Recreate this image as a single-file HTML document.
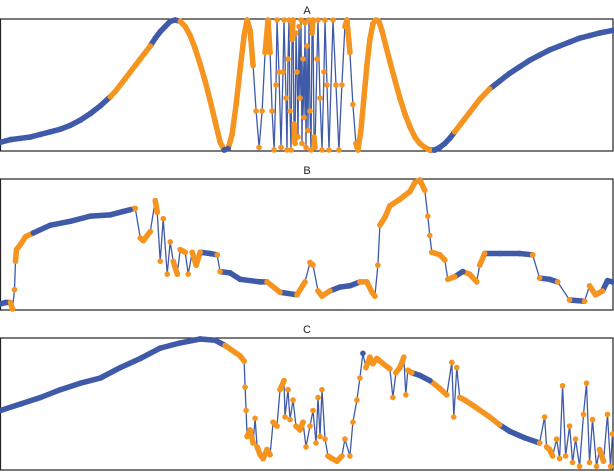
<!DOCTYPE html>
<html><head><meta charset="utf-8">
<style>
html,body{margin:0;padding:0;background:#fff;}
svg{display:block;font-family:"Liberation Sans",sans-serif;}
</style></head>
<body>
<svg id="chart" width="614" height="472" viewBox="0 0 614 472" xmlns="http://www.w3.org/2000/svg"></svg>
<script>
// Panel A data
const xA = [0,10,20,30,40,50,60,70,80,90, 100,110,115,120,125,130,135,140,145,150,
 155,160,165,170,175,180,185,190,195,200, 205,210,215,220,224,228,232,236,240,244,
 247,250,253,256,259,262,265,268,270,272, 274,276,277,279,281,283,284,286,287,288,
 289,290,291,292,293,294,295,296,297,298, 299,300,301,302,303,304,305,306,307,308,
 309,310,311,312,313,314,315,317,318,320, 322,324,325,327,329,333,336,339,342,345,
 347,350,353,356,358,361,364,367,370,373, 376,379,382,386,390,395,400,405,410,415,
 420,425,430,435,440,445,450,455,460,465, 470,475,480,485,490,500,510,520,530,540,
 550,560,570,580,590,600,613];
const vA = [6,8,9,10,12,14,16,19,23,28, 34,41,45,50,55,60,65,70,75,80,
 86,91,95,99,100,99,95,88,78,66, 53,38,22,6,0,1,12,35,62,88,
 100,92,65,30,2,30,75,100,75,30, 0,50,100,60,2,60,100,40,0,70,
 100,30,0,85,100,20,5,90,60,10, 95,40,100,5,70,25,98,2,80,15,
 100,30,0,90,100,10,2,70,100,40, 0,60,100,50,0,100,50,0,50,95,
 100,75,35,5,0,15,40,65,85,97, 100,99,92,80,68,54,40,28,18,10,
 5,2,0,0,2,5,9,14,19,24, 29,34,39,43,47,53,59,64,69,73,
 77,80,83,86,88,90,92];
const orangeA = [[110,150],[180,222],[230,430],[455,490]];

// Panel B data
const xB = [0,5,10,12,14,15,16,20,25,33, 50,70,90,110,130,135,140,143,150,155,
 157,160,163,167,170,173,177,180,185,188, 192,196,200,210,217,220,230,240,260,267,
 280,297,305,310,313,318,322,330,340,350, 360,367,372,375,378,380,385,390,400,410,
 415,420,425,428,430,432,440,445,448,455, 463,470,477,480,485,500,520,533,540,550,
 558,570,585,590,596,603,608,613];
const vB = [4,5,5,0,15,37,46,50,56,59, 65,68,72,73,77,78,55,53,60,84,
 75,37,70,27,52,37,27,46,44,27, 44,34,44,43,42,29,28,23,21,21,
 13,11,21,36,34,14,10,14,17,18, 21,21,13,10,34,65,71,80,85,91,
 98,100,92,72,57,44,42,38,23,25, 29,27,21,34,43,43,43,42,24,23,
 21,7,6,18,11,14,22,21];
const orangeB = [[8,30],[132,200],[215,222],[265,280],[297,330],[360,418],[420,440],[441,455],[465,485],[530,540],[555,570],[585,605]];

// Panel C data
const xC = [0,20,40,60,80,100,120,140,160,180, 200,215,225,240,244,245,246,247,250,253,
 255,257,260,263,267,270,273,277,280,284, 285,288,290,293,296,300,303,306,310,313,
 316,318,320,322,325,328,332,337,342,345, 350,353,357,360,363,366,370,373,377,380,
 385,390,393,396,400,404,406,408,412,420, 430,440,447,452,454,457,460,465,475,490,
 500,510,525,540,545,547,550,553,557,560, 563,566,570,573,576,580,584,587,590,593,
 597,600,604,608,611,613];
const vC = [45,50,55,61,66,70,78,85,93,97, 100,99,95,87,83,63,45,25,30,20,
 39,17,11,8,15,11,36,33,61,68, 40,61,38,53,33,30,36,17,33,45,
 20,55,25,61,23,10,8,6,10,23, 10,36,53,70,89,78,86,81,85,83,
 80,77,55,74,78,86,57,76,74,72, 68,62,57,82,40,78,55,53,48,40,
 34,29,24,20,40,17,15,10,23,8, 64,10,33,5,23,2,42,66,5,38,
 2,15,6,42,2,27];
const orangeC = [[224,250],[250,360],[364,412],[433,500],[537,613]];

const titles = ["A","B","C"];

const svg = document.getElementById('chart');
const NS = 'http://www.w3.org/2000/svg';
const BLUE = '#3f5aa8', ORANGE = '#f5941e';

function mk(tag, attrs){ const e=document.createElementNS(NS,tag); for(const k in attrs) e.setAttribute(k,attrs[k]); return e; }

const panels = [
  {xs:xA, vs:vA, orange:orangeA, top:19, bottom:151, title:titles[0], name:'panel-a', th:36},
  {xs:xB, vs:vB, orange:orangeB, top:179, bottom:310, title:titles[1], name:'panel-b', th:14},
  {xs:xC, vs:vC, orange:orangeC, top:338, bottom:470, title:titles[2], name:'panel-c', th:14}
];

panels.forEach(p=>{
  const g = mk('g',{});
  
  
  svg.appendChild(g);
  const t = mk('text',{x:307,y:p.top-5,'text-anchor':'middle','font-size':'11',fill:'#222'});
  t.textContent = p.title;
  
  
  g.appendChild(t);
  const frame = mk('rect',{x:0.5,y:p.top,width:612.5,height:p.bottom-p.top,fill:'none',stroke:'#222','stroke-width':1.2});
  
  
  g.appendChild(frame);
  const sx = x => x/613*612 + 0.5;
  const sy = v => p.bottom - 1 - v/100*(p.bottom-p.top-2);
  const isOr = x => p.orange.some(r=>x>=r[0]&&x<=r[1]);
  let d = '';
  p.xs.forEach((x,i)=>{ d += (i?'L':'M')+sx(x).toFixed(1)+','+sy(p.vs[i]).toFixed(1); });
  const line = mk('path',{d:d,fill:'none',stroke:BLUE,'stroke-width':1.3});
  
  
  g.appendChild(line);
  for(let i=1;i<p.xs.length;i++){
    const x1=sx(p.xs[i-1]),y1=sy(p.vs[i-1]),x2=sx(p.xs[i]),y2=sy(p.vs[i]);
    const dy=Math.abs(y2-y1);
    if(dy<p.th){
      const mid=(p.xs[i-1]+p.xs[i])/2;
      const s = mk('line',{x1:x1,y1:y1,x2:x2,y2:y2,stroke:isOr(mid)?ORANGE:BLUE,'stroke-width':5.5,'stroke-linecap':'round'});
      
      
      g.appendChild(s);
    }
  }
  p.xs.forEach((x,i)=>{
    const c = mk('circle',{cx:sx(x),cy:sy(p.vs[i]),r:2.8,fill:isOr(x)?ORANGE:BLUE});
    
    
    g.appendChild(c);
  });
});
</script>
</body></html>
